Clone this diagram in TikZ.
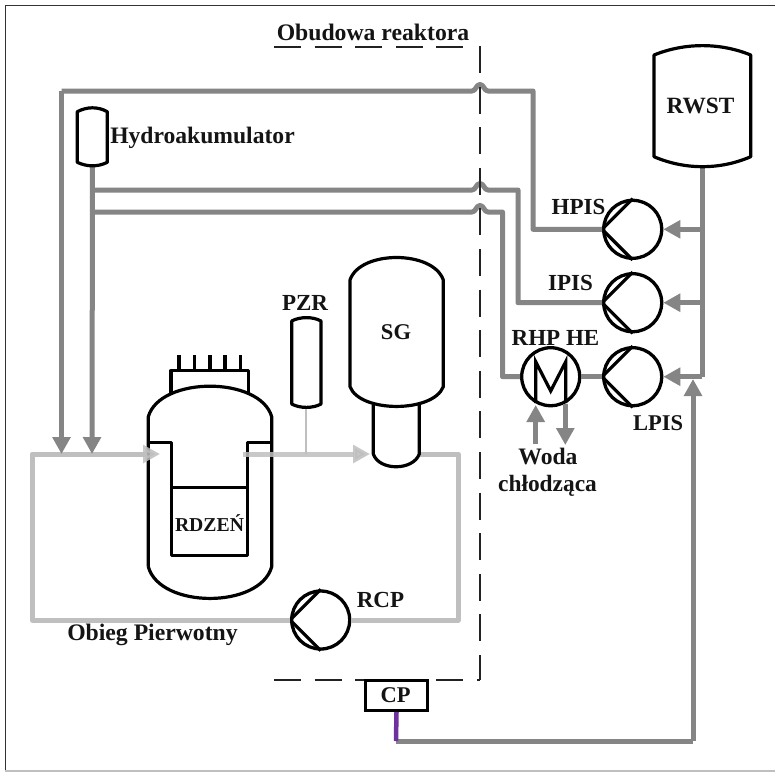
\documentclass[tikz,border=0pt]{standalone}
\usepackage{fontspec}
\setmainfont{Liberation Serif}
\usetikzlibrary{arrows.meta}
\tikzset{x=1pt,y=-1pt,
 vessel/.style={draw=black,line width=3.2pt,line join=round},
 pipe/.style={draw=pipegray,line width=5pt,line join=round},
 loopline/.style={draw=loopgray,line width=5pt,line join=round},
 tipd/.style={-{Triangle[length=17pt,width=17.5pt]}},
 pumpbody/.style={circle,draw=black,line width=3.3pt,minimum size=58pt,inner sep=0pt,fill=white},
 lbl/.style={font=\fontsize{#1}{#1}\selectfont\bfseries,anchor=base,inner sep=0pt,text=textdark},
 lbl/.default=23,
 wall/.style={draw=walldark,line width=1.6pt,dash pattern=on 27pt off 13.6pt}
}
\definecolor{pipegray}{HTML}{858585}
\definecolor{loopgray}{HTML}{BFBFBF}
\definecolor{textdark}{HTML}{141414}
\definecolor{walldark}{HTML}{222222}
\definecolor{cppurple}{HTML}{7030A0}
\begin{document}
\begin{tikzpicture}
\useasboundingbox (0,0) rectangle (775,772);
\fill[white] (0,0) rectangle (775,772);
% frame
\draw[draw=black!80,line width=1.5pt] (5.3,771) -- (5.3,5.3) -- (775,5.3);
\draw[draw=black!25,line width=1.5pt] (5.3,771) -- (775,771);

% pumps and exchanger
\node[pumpbody] (hpis) at (632.7,229.3) {};
\node[pumpbody] (ipis) at (632.7,302.7) {};
\node[pumpbody] (lpis) at (632.7,376.7) {};
\node[pumpbody] (he) at (550.7,376.7) {};
\node[pumpbody] (rcp) at (320.7,620) {};
\foreach \p in {hpis,ipis,lpis,rcp}
  \draw[black,line width=3.2pt,line join=round] (\p.north) -- (\p.west) -- (\p.south);
\draw[black,line width=3.2pt,line join=miter] (535.7,403) -- (535.7,361.7) -- (550.7,391) -- (565.7,361.7) -- (565.7,403);

% coordinates for pipes
\coordinate (accb) at (92.5,165);
\coordinate (rwstb) at (702.3,167);
\coordinate (t1) at (61.5,454);
\coordinate (t2) at (92,454);
\coordinate (j1) at (92.5,190);
\coordinate (j2) at (92.5,212);
\coordinate (rj1) at (702.3,229.3);
\coordinate (rj2) at (702.3,302.7);
\coordinate (rj3) at (702.3,376.7);
\coordinate (cpc) at (396,741);
\coordinate (wi) at (535.7,444);
\coordinate (wo) at (565.3,445);

% primary loop
\coordinate (sgin) at (370,454);
\coordinate (rin) at (160,454);
\coordinate (rout) at (243,454);
\coordinate (pzrj) at (306,454);
\draw[loopline] (rcp.east) -- (458,620) -- (458,454) -- (419,454);
\draw[loopline] (rcp.west) -- (32,620) -- (32,454) -- (145,454);
\draw[loopgray,line width=2.2pt] (306,407) -- (pzrj);

% injection pipes
\draw[pipe] (rj3) -- (rwstb);
\draw[pipegray,line width=5pt,tipd] (accb) -- (t2);
\draw[pipegray,line width=5pt,tipd] (61.5,91) -- (t1);
\draw[pipe] (61.5,91) -- (472,91) .. controls (476,91) and (476,84.5) .. (480,84.5) .. controls (484,84.5) and (484,91) .. (488,91) -- (533,91) -- (533,229.3) -- (hpis.west);
\draw[pipe] (j1) -- (472,190) .. controls (476,190) and (476,183.5) .. (480,183.5) .. controls (484,183.5) and (484,190) .. (488,190) -- (518,190) -- (518,302.7) -- (ipis.west);
\draw[pipe] (j2) -- (472,212) .. controls (476,212) and (476,205.5) .. (480,205.5) .. controls (484,205.5) and (484,212) .. (488,212) -- (502.5,212) -- (502.5,376.7) -- (he.west);
\draw[pipe] (he.east) -- (lpis.west);
\draw[pipegray,line width=5pt,tipd] (rj1) -- (hpis.east);
\draw[pipegray,line width=5pt,tipd] (rj2) -- (ipis.east);
\draw[pipegray,line width=5pt,tipd] (rj3) -- (lpis.east);
\draw[pipegray,line width=5pt,tipd] (wi) -- (535.7,405);
\draw[pipegray,line width=5pt,tipd] (565.3,404) -- (wo);
\draw[pipe] (cpc) -- (693,741);
\draw[pipegray,line width=5pt,tipd] (693,741) -- (693,379);

% containment
\draw[wall] (480,46) -- (480,680);
\draw[wall] (274,46.7) -- (464,46.7);
\draw[wall] (274,680) -- (480,680);

% tanks
\draw[vessel] (654,55) .. controls (685,42.5) and (720,42.5) .. (750.7,55) -- (750.7,156.7) .. controls (720,170) and (685,170) .. (654,156.7) -- cycle;
\draw[vessel] (77.3,111.7) .. controls (87,106.5) and (98,106.5) .. (107.3,111.7) -- (107.3,162.3) .. controls (98,167) and (87,167) .. (77.3,162.3) -- cycle;
\draw[vessel] (291.7,321) .. controls (300,316.5) and (313,316.5) .. (321,321) -- (321,404) .. controls (313,408.5) and (300,408.5) .. (291.7,404) -- cycle;
\draw[vessel] (373.3,405) -- (373.3,454) .. controls (379,471) and (413,471) .. (419.3,454) -- (419.3,405);
\draw[vessel,fill=white] (350,280) .. controls (360,250) and (433,250) .. (443.3,280) -- (443.3,386.7) .. controls (433,413) and (360,413) .. (350,386.7) -- cycle;

% reactor
\foreach \xx in {179,194.3,210,225,240.7} \draw[black,line width=3.2pt] (\xx,355) -- (\xx,371);
\draw[vessel] (171,393) -- (171,370.7) -- (248.3,370.7) -- (248.3,393);
\draw[vessel] (148.3,566.7) -- (148.3,416.7) .. controls (160,376) and (260,376) .. (271.7,416.7) -- (271.7,566.7) .. controls (260,609) and (160,609) .. (148.3,566.7);
\draw[vessel] (148.3,442.3) -- (171.7,442.3) -- (171.7,555.7) -- (247.3,555.7) -- (247.3,442.3) -- (271.7,442.3);
\draw[vessel] (171.7,487.7) -- (247.3,487.7);
% primary flow arrows pass over the reactor wall
\draw[loopgray,line width=5pt,opacity=.85,-{Triangle[length=17pt,width=17.5pt]}] (100,454) -- (rin);
\draw[loopgray,line width=5pt,opacity=.85,-{Triangle[length=17pt,width=17.5pt]}] (rout) -- (sgin);

% CP
\node[draw=black,line width=3pt,minimum width=61.5pt,minimum height=30.5pt,inner sep=0pt,fill=white] (cp) at (396.5,695.3) {};
\draw[cppurple,line width=4.5pt] (cp.south) -- (cpc);

% labels
\node[lbl=23.7] (t0) at (373,40.7) {Obudowa reaktora};
\node[lbl=23.6] (t1a) at (202.5,143) {Hydroakumulator};
\node[lbl=23.3] (t2a) at (700.5,113) {RWST};
\node[lbl=23] (t3) at (578.5,214) {HPIS};
\node[lbl=23] (t4) at (570.5,290.7) {IPIS};
\node[lbl=23] (t5) at (555.5,345) {RHP HE};
\node[lbl=22.5] (t6) at (658,430) {LPIS};
\node[lbl=23.6] (t7) at (548,464) {Woda};
\node[lbl=23.4] (t8) at (547.5,491.7) {chłodząca};
\node[lbl=23] (t9) at (305,310) {PZR};
\node[lbl=22.5] (t10) at (396,339) {SG};
\node[lbl=19.7] (t11) at (209.5,531) {RDZEŃ};
\node[lbl=23] (t12) at (380.5,607) {RCP};
\node[lbl=23.7] (t13) at (152.5,640.7) {Obieg Pierwotny};
\node[lbl=22.5] (t14) at (395.7,702) {CP};
\end{tikzpicture}
\end{document}
